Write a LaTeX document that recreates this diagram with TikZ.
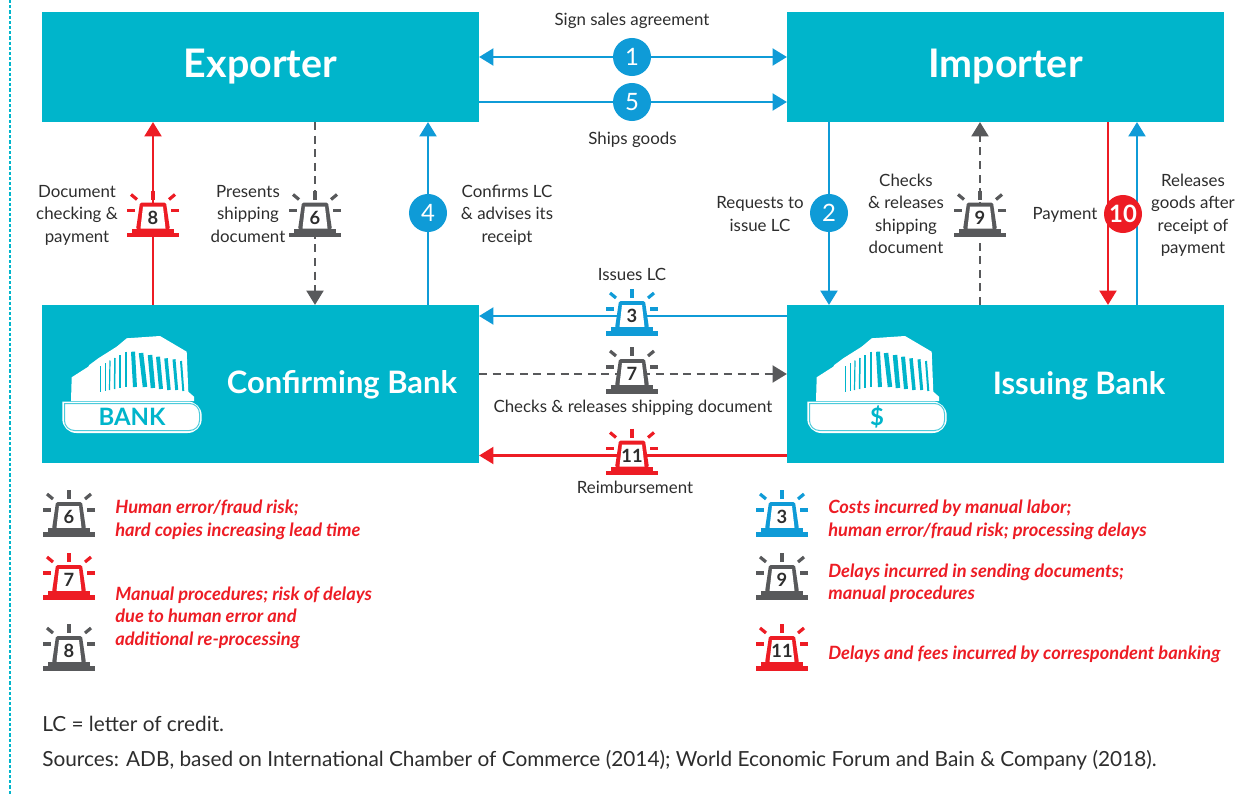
\documentclass[tikz,border=0pt]{standalone}
\usepackage{fontspec}
\setmainfont{Lato}
\usetikzlibrary{arrows.meta}
\definecolor{teal}{HTML}{00B5CB}
\definecolor{flowblue}{HTML}{0F9BD7}
\definecolor{flowred}{HTML}{ED1C24}
\definecolor{flowgray}{HTML}{58595B}
\definecolor{ink}{HTML}{2D2D2D}
\tikzset{
	box/.style={fill=teal, text=white, inner sep=0, outer sep=0, minimum width=10.925cm, font=\fontsize{28}{32}\selectfont\bfseries},
	flow/.style={line width=0.07cm, -{Triangle[length=0.36cm,width=0.42cm]}},
	dashflow/.style={flow, dash pattern=on 0.2cm off 0.14cm},
	num/.style={circle, inner sep=0, minimum size=0.95cm, text=white, font=\fontsize{17}{20}\selectfont},
	lab/.style={align=center, text=ink, font=\fontsize{12}{16}\selectfont},
	risk/.style={align=left, anchor=west, inner sep=0, text=flowred, font=\fontsize{13}{16}\selectfont\bfseries\itshape},
	foot/.style={anchor=west, inner sep=0, text=ink, font=\fontsize{14.8}{17}\selectfont},
}
\def\alarm[#1](#2)(#3){
	\begin{scope}[shift={(#2)}]
		\draw[#1, line width=0.1cm] (0, -27) -- (0, -18);
		\draw[#1, line width=0.08cm] (-22, -23) -- (-16, -18);
		\draw[#1, line width=0.08cm] (22, -23) -- (16, -18);
		\draw[#1, line width=0.08cm] (-26, -7) -- (-18, -7);
		\draw[#1, line width=0.08cm] (26, -7) -- (18, -7);
		\fill[#1, rounded corners=0.04cm] (-13, -15) -- (13, -15) -- (17, 12) -- (-17, 12) -- cycle;
		\fill[white] (-10, -11) -- (10, -11) -- (12.5, 11) -- (-12.5, 11) -- cycle;
		\fill[#1] (-21, 11) rectangle (21, 15);
		\fill[#1] (-26, 15) rectangle (26, 19.5);
		\node[text=ink, inner sep=0, font=\fontsize{13}{15}\selectfont\bfseries] (#2num) at (0, 0) {#3};
	\end{scope}
}
\def\bankicon(#1)(#2)(#3){
	\begin{scope}[shift={(#1, 0)}]
		\fill[white] (71, 401) -- (71.7, 377.3) -- (88.3, 366.7) -- (89.3, 365) -- (98.3, 358.3) -- (116.7, 346.7) -- (126.7, 338.3) -- (160, 336) -- (186.7, 351.7) -- (188.3, 391.7) -- (194, 396.7) -- (194, 401) -- cycle;
		\foreach \xa/\ya/\xb/\yb/\w in {100.7/366/100.7/392/1, 105/363/105/390.5/1, 110/360.5/109.5/390/1.2, 115/358/114.5/389/1.5, 120/355/120/388/1.5, 126/351.7/126/387/2, 133/351.7/135/387/4, 141/353/145/387/4.5, 150/355/153/388/4.5, 158/356.7/161/389/4, 166/358.3/169/390/3.5, 174/359.3/176.7/390/3, 181/361/183.3/391/2}
			\draw[teal, line width=\w*0.025cm] (\xa, \ya) -- (\xb, \yb);
		\fill[white, rounded corners=0.35cm] (62.3, 401.5) -- (62.3, 433) -- (201.7, 433) -- (201.7, 401.5) [sharp corners] -- cycle;
		\draw[teal!70, line width=0.025cm, rounded corners=0.25cm] (64.5, 403.5) -- (64.5, 430.5) -- (199.5, 430.5) -- (199.5, 403.5) [sharp corners] -- cycle;
		\node[text=teal, inner sep=0, font=\fontsize{17}{20}\selectfont\bfseries] (#2) at (132, 417) {#3};
	\end{scope}
}

\begin{document}
\begin{tikzpicture}[x=0.025cm, y=-0.025cm]
			%%%%% START %%%%%
			\useasboundingbox (0, 0) rectangle (1252, 795);
			\draw[teal, line width=0.05cm, dash pattern=on 0.08cm off 0.05cm] (9.7, 0) -- (9.7, 795);
			
			\node[box, minimum height=2.75cm] (exporter) at (260.5, 67) {Exporter};
			\node[box, minimum height=2.75cm] (importer) at (1005.5, 67) {Importer};
			\node[box, minimum height=3.95cm] (confirmbank) at (260.5, 384) {};
			\node[box, minimum height=3.95cm] (issuebank) at (1005.5, 384) {};
			\node[text=white, font=\fontsize{22}{24}\selectfont\bfseries] (confirmname) at (342, 385) {Confirming Bank};
			\node[text=white, font=\fontsize{22}{24}\selectfont\bfseries] (issuename) at (1079, 386) {Issuing Bank};
			\bankicon(0)(banktag)(BANK);
			\bankicon(745)(dollartag)(\$);
			
			\coordinate (al8) at (153, 217.5);
			\coordinate (al6) at (315, 217.5);
			\coordinate (al9) at (980, 217.5);
			\coordinate (al3) at (632, 316);
			\coordinate (al7) at (632, 374);
			\coordinate (al11) at (632, 455.5);
			\coordinate (pay) at (1108, 214);
			\coordinate (release) at (1137, 214);
			\coordinate (pos1) at (632, 57);
			\coordinate (pos5) at (632, 102);
			\coordinate (pos4) at (428, 213);
			\coordinate (pos2) at (829, 213);
			
			\draw[flow, flowblue, {Triangle[length=0.36cm,width=0.42cm]}-{Triangle[length=0.36cm,width=0.42cm]}] (exporter.east |- pos1) -- (importer.west |- pos1);
			\draw[flow, flowblue] (exporter.east |- pos5) -- (importer.west |- pos5);
			\draw[flow, flowblue] (confirmbank.north -| pos4) -- (exporter.south -| pos4);
			\draw[flow, flowblue] (importer.south -| pos2) -- (issuebank.north -| pos2);
			\draw[flow, flowred] (confirmbank.north -| al8) -- (exporter.south -| al8);
			\draw[dashflow, flowgray] (exporter.south -| al6) -- (confirmbank.north -| al6);
			\draw[dashflow, flowgray] (issuebank.north -| al9) -- (importer.south -| al9);
			\draw[flow, flowred] (importer.south -| pay) -- (issuebank.north -| pay);
			\draw[flow, flowblue] (issuebank.north -| release) -- (importer.south -| release);
			\draw[flow, flowblue] (issuebank.west |- al3) -- (confirmbank.east |- al3);
			\draw[dashflow, flowgray] (confirmbank.east |- al7) -- (issuebank.west |- al7);
			\draw[flow, flowred] (issuebank.west |- al11) -- (confirmbank.east |- al11);
			
			\node[num, fill=flowblue] (num1) at (pos1) {1};
			\node[num, fill=flowblue] (num5) at (pos5) {5};
			\node[num, fill=flowblue] (num4) at (pos4) {4};
			\node[num, fill=flowblue] (num2) at (pos2) {2};
			\node[num, fill=flowred] (num10) at (1123, 214) {\textbf{10}};
			
			\alarm[flowred](al8)(8);
			\alarm[flowgray](al6)(6);
			\alarm[flowgray](al9)(9);
			\alarm[flowblue](al3)(3);
			\alarm[flowgray](al7)(7);
			\alarm[flowred](al11)(11);
			
			\node[lab] (signlab) at (632, 21) {Sign sales agreement};
			\node[lab] (shipslab) at (632.5, 140) {Ships goods};
			\node[lab] (doclab) at (77, 215) {Document\\checking \&\\payment};
			\node[lab] (presentlab) at (248, 214) {Presents\\shipping\\document};
			\node[lab] (confirmlab) at (507, 215) {Confirms LC\\\& advises its\\receipt};
			\node[lab] (requestlab) at (760, 214) {Requests to\\issue LC};
			\node[lab] (checklab) at (906, 214) {Checks\\\& releases\\shipping\\document};
			\node[lab] (paylab) at (1065, 215) {Payment};
			\node[lab] (releaselab) at (1193, 215) {Releases\\goods after\\receipt of\\payment};
			\node[lab] (issueslab) at (632, 274) {Issues LC};
			\node[lab] (checkslab) at (633, 408) {Checks \& releases shipping document};
			\node[lab] (reimblab) at (635, 487) {Reimbursement};
			
			\coordinate (leg6) at (69, 517);
			\coordinate (leg7) at (69, 580);
			\coordinate (leg8) at (69, 651);
			\coordinate (leg3) at (782, 517);
			\coordinate (leg9) at (782, 580);
			\coordinate (leg11) at (782, 651);
			\alarm[flowgray](leg6)(6);
			\alarm[flowred](leg7)(7);
			\alarm[flowgray](leg8)(8);
			\alarm[flowblue](leg3)(3);
			\alarm[flowgray](leg9)(9);
			\alarm[flowred](leg11)(11);
			
			\node[risk] (risk6) at (115, 520) {Human error/fraud risk;\\hard copies increasing lead time};
			\node[risk] (risk7) at (115, 617.5) {Manual procedures; risk of delays\\due to human error and\\additional re-processing};
			\node[risk] (risk3) at (828, 520) {Costs incurred by manual labor;\\human error/fraud risk; processing delays};
			\node[risk] (risk9) at (828, 583) {Delays incurred in sending documents;\\manual procedures};
			\node[risk] (risk11) at (828, 654) {Delays and fees incurred by correspondent banking};
			
			\node[foot] (lcnote) at (42, 724) {LC = letter of credit.};
			\node[foot] (sources) at (42, 760) {Sources: ADB, based on International Chamber of Commerce (2014); World Economic Forum and Bain \& Company (2018).};
			%%%%% END %%%%%
\end{tikzpicture}
\end{document}
